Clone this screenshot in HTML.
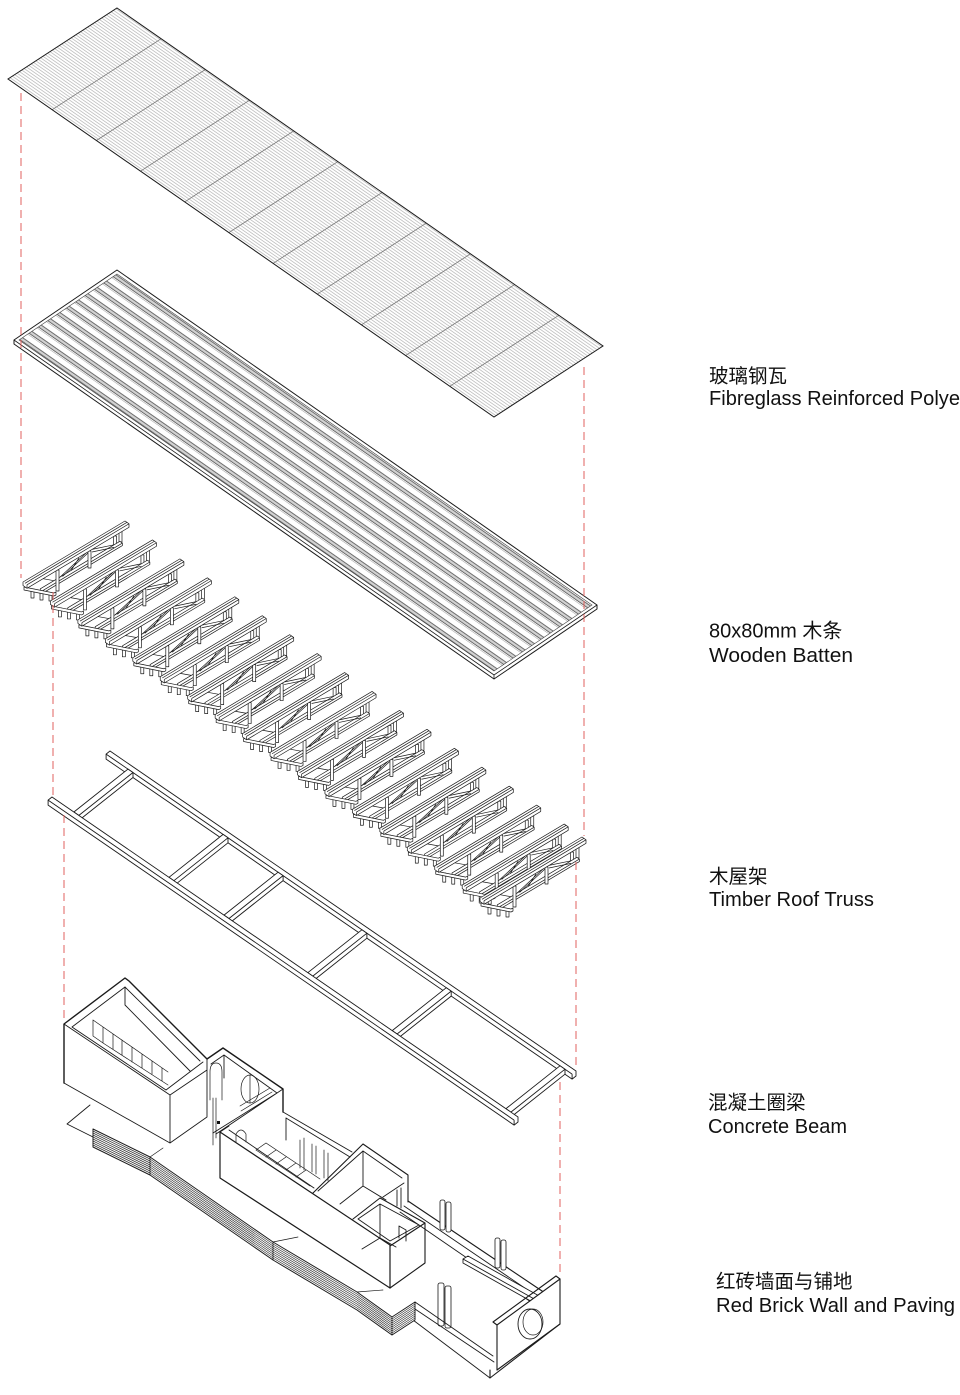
<!DOCTYPE html>
<html><head><meta charset="utf-8"><style>
html,body{margin:0;padding:0;background:#fff;}
svg{display:block;}
text{font-family:"Liberation Sans","Noto Sans CJK SC",sans-serif;fill:#111;}
</style></head><body>
<svg width="960" height="1395" viewBox="0 0 960 1395" xmlns="http://www.w3.org/2000/svg">
<defs>
<pattern id="h1" patternUnits="userSpaceOnUse" width="10" height="2.6" patternTransform="translate(117,8) rotate(34.82)">
 <line x1="0" y1="1.3" x2="10" y2="1.3" stroke="#a0a0a0" stroke-width="0.55"/>
</pattern>
<pattern id="h2" patternUnits="userSpaceOnUse" width="10" height="10.5" patternTransform="translate(117,270) rotate(34.91)">
 <rect x="0" y="4.5" width="10" height="3.2" fill="#d2d2d2"/>
 <line x1="0" y1="4.5" x2="10" y2="4.5" stroke="#3a3a3a" stroke-width="0.7"/>
 <line x1="0" y1="7.7" x2="10" y2="7.7" stroke="#3a3a3a" stroke-width="0.7"/>
 <line x1="0" y1="9.2" x2="10" y2="9.2" stroke="#9a9a9a" stroke-width="0.5"/>
</pattern>
<g id="tr" fill="#fff" stroke="#1a1a1a" stroke-width="0.7" stroke-linejoin="round">
 <rect x="96" y="-52" width="3" height="12"/>
 <rect x="90.5" y="-46" width="3" height="10"/>
 <polygon points="17.3,6.85 96.9,-40.7 99.4,-38.95 99.4,-36.45 19.8,11.1 17.3,9.35"/>
 <path fill="none" d="M19.8,8.6 L99.4,-38.95"/>
 <path fill="none" d="M37,-4.9 L63,-29 M39.5,-5.5 L65.5,-29.5 M69,-32.6 L91,-37.2 M69,-30 L91,-34.6 M20,-3.3 L31,-1.3 M48,-11.5 L56,-24"/>
 <rect x="33" y="-12" width="3" height="21"/>
 <rect x="65" y="-31" width="3" height="17"/>
 <rect x="8" y="7" width="3" height="9"/>
 <rect x="17" y="9" width="3" height="9"/>
 <rect x="26" y="11" width="3" height="8"/>
 <polygon points="1,5 31,11 33,10 33,13 31,14 1,8"/>
 <polygon points="0,0 102,-61 106,-58.2 106,-54.7 4,6.3 0,3.5"/>
 <path fill="none" d="M4,2.8 L106,-58.2 M4,2.8 L4,6.3 M2,1.3 L104,-59.7"/>
</g>
</defs>

<!-- Top panel: fibreglass -->
<polygon points="117,8 603,346 494,417 8,79" fill="url(#h1)" stroke="none"/>
<g stroke="#777" stroke-width="0.8">
<line x1="161.2" y1="38.7" x2="52.2" y2="109.7"/>
<line x1="205.4" y1="69.5" x2="96.4" y2="140.5"/>
<line x1="249.5" y1="100.2" x2="140.5" y2="171.2"/>
<line x1="293.7" y1="130.9" x2="184.7" y2="201.9"/>
<line x1="337.9" y1="161.6" x2="228.9" y2="232.6"/>
<line x1="382.1" y1="192.4" x2="273.1" y2="263.4"/>
<line x1="426.3" y1="223.1" x2="317.3" y2="294.1"/>
<line x1="470.5" y1="253.8" x2="361.5" y2="324.8"/>
<line x1="514.6" y1="284.6" x2="405.6" y2="355.6"/>
<line x1="558.8" y1="315.3" x2="449.8" y2="386.3"/>
</g>
<polygon points="117,8 603,346 494,417 8,79" fill="none" stroke="#1a1a1a" stroke-width="1"/>

<!-- Second panel: battens -->
<polygon points="117,270 597,605 597,609 494,679 14,344 14,340" fill="#fff" stroke="#1a1a1a" stroke-width="1" stroke-linejoin="round"/>
<path d="M14,340 L494,675 L597,605 M494,675 L494,679" fill="none" stroke="#1a1a1a" stroke-width="0.8"/>
<polygon points="117,274 592,605 494,671 19,340" fill="url(#h2)" stroke="#444" stroke-width="0.6"/>

<!-- Trusses -->
<use href="#tr" transform="translate(23,582)"/>
<use href="#tr" transform="translate(50.45,600.94)"/>
<use href="#tr" transform="translate(77.9,619.88)"/>
<use href="#tr" transform="translate(105.35,638.82)"/>
<use href="#tr" transform="translate(132.8,657.76)"/>
<use href="#tr" transform="translate(160.25,676.7)"/>
<use href="#tr" transform="translate(187.7,695.64)"/>
<use href="#tr" transform="translate(215.15,714.58)"/>
<use href="#tr" transform="translate(242.6,733.52)"/>
<use href="#tr" transform="translate(270.05,752.46)"/>
<use href="#tr" transform="translate(297.5,771.4)"/>
<use href="#tr" transform="translate(324.95,790.34)"/>
<use href="#tr" transform="translate(352.4,809.28)"/>
<use href="#tr" transform="translate(379.85,828.22)"/>
<use href="#tr" transform="translate(407.3,847.16)"/>
<use href="#tr" transform="translate(434.75,866.1)"/>
<use href="#tr" transform="translate(462.2,885.04)"/>
<use href="#tr" transform="translate(480,898)"/>

<!-- Ladder (concrete ring beam) -->
<g fill="#fff" stroke="#1a1a1a" stroke-width="0.9" stroke-linejoin="round">
 <polygon points="110,751 576,1071 576,1076 572.1,1079.1 106.1,759.1 106.1,754.1"/>
 <path fill="none" d="M106.1,754.1 L572.1,1074.1 M572.1,1074.1 L572.1,1079.1"/>
 <polygon points="73.9,812 128,769.1 133,772.5 133,777.5 78.9,820.4 78.9,815.4"/>
 <polygon points="169,877.3 223.1,834.4 228,837.8 228,842.8 173.9,885.7 173.9,880.7"/>
 <polygon points="224,915.1 278.1,872.2 283.1,875.6 283.1,880.6 229,923.5 229,918.5"/>
 <polygon points="307.8,972.7 361.9,929.8 366.9,933.2 366.9,938.2 312.8,981.1 312.8,976.1"/>
 <polygon points="392.2,1030.6 446.3,987.7 451.2,991.1 451.2,996.1 397.1,1039 397.1,1034"/>
 <polygon points="505.9,1108.7 560,1065.8 565,1069.2 565,1074.2 510.9,1117.1 510.9,1112.1"/>
 <path fill="none" d="M78.9,815.4 L133,772.5 M173.9,880.7 L228,837.8 M229,918.5 L283.1,875.6 M312.8,976.1 L366.9,933.2 M397.1,1034 L451.2,991.1 M510.9,1112.1 L565,1069.2"/>
 <polygon points="52,797 518,1117 518,1122 514.1,1125.1 48.1,805.1 48.1,800.1"/>
 <path fill="none" d="M48.1,800.1 L514.1,1120.1 M514.1,1120.1 L514.1,1125.1"/>
</g>

<!-- Building -->
<g fill="none" stroke="#1a1a1a" stroke-width="0.9" stroke-linejoin="round" stroke-linecap="round">
 <!-- slab -->
 <path d="M90,1105 L67,1124 L93,1137"/>
 <!-- block A -->
 <path stroke-width="1.4" d="M64,1083 L64,1024 L125,978 L129,981 L207,1059 L223,1048 L283,1089 L283,1112"/>
 <path d="M64,1024 L170,1095 L170,1143 M64,1083 L170,1143 M170,1095 L207,1070 L207,1117 L170,1143 M207,1059 L207,1070"/>
 <path d="M72,1027 L125,987 M72,1027 L166,1090 L203,1062 M125,987 L125,1005 L190,1071 M125,987 L200,1061"/>
 <path stroke-width="0.7" d="M93,1020 L93,1036 M103,1027 L103,1043 M113,1034 L113,1049 M122,1040 L122,1055 M132,1047 L132,1062 M142,1054 L142,1068 M152,1061 L152,1074 M162,1068 L162,1081 M93,1020 L168,1072 M103,1043 L168,1085 M93,1036 L103,1043"/>
 <!-- tower 2 -->
 <path d="M211,1064 L224,1055 L277,1093 M224,1055 L224,1078 M283,1089 L216,1134 M277,1093 L213,1133"/>
 <path stroke-width="0.7" d="M210,1100 L210,1072 Q210,1063 216,1063 Q222,1063 222,1072 L222,1100 M213,1098 L213,1145 M216,1098 L216,1138 M240,1106 L270,1088 M241,1111 L272,1092"/>
 <ellipse cx="250" cy="1089" rx="9" ry="14" stroke-width="0.7"/>
 <path stroke-width="0.7" d="M250,1075 L250,1103"/>
 <!-- block B -->
 <path stroke-width="1.2" d="M220,1132 L390,1245 M220,1132 L220,1178 L390,1288 L390,1245"/>
 <path d="M229,1130 L314,1188 M220,1132 L229,1126 M283,1112 L352,1152 M286,1118 L350,1157 M286,1118 L286,1140"/>
 <path stroke-width="0.7" d="M236,1142 L236,1134 Q241,1126 246,1134 L246,1142 M256,1150 L310,1186 M266,1143 L320,1179 M256,1150 L266,1143 M266,1157 L276,1150 M276,1164 L286,1157 M286,1170 L296,1163 M296,1177 L306,1170 M300,1140 L300,1168 M304,1138 L304,1170 M312,1144 L312,1172 M316,1146 L316,1174 M324,1150 L324,1178 M328,1153 L328,1181"/>
 <!-- box C -->
 <path stroke-width="1.1" d="M313,1193 L363,1144 L408,1175 L408,1202"/>
 <path d="M318,1191 L363,1151 L402,1178 M363,1151 L363,1186 L340,1204 M363,1186 L386,1200 M383,1197 L404,1183 M397,1190 L397,1206 M401,1188 L401,1208"/>
 <!-- box D -->
 <path stroke-width="1.1" d="M353,1219 L380,1198 L425,1223 L390,1246 M425,1223 L425,1263 L390,1288"/>
 <path d="M358,1219 L380,1204 L419,1225 L390,1241 L358,1219 M380,1204 L380,1238 L362,1249 M380,1238 L396,1247 M399,1238 L399,1226 L406,1230 L406,1241"/>
 <!-- paving / right part -->
 <path stroke-width="1.1" d="M408,1201 L545,1293"/>
 <path d="M404,1206 L538,1297 M400,1212 L531,1302"/>
 <path fill="#fff" d="M463,1259 L468,1256 L541,1297 L536,1300 Z M463,1259 L463,1263 L536,1304 L536,1300 M536,1304 L541,1301 L541,1297"/>
 <g fill="#fff" stroke-width="0.8">
  <rect x="440" y="1200" width="5" height="30" rx="2"/>
  <rect x="446" y="1202" width="5" height="30" rx="2"/>
  <rect x="495" y="1238" width="5" height="30" rx="2"/>
  <rect x="501" y="1240" width="5" height="30" rx="2"/>
  <rect x="438" y="1283" width="6" height="43" rx="2"/>
  <rect x="445" y="1286" width="6" height="42" rx="2"/>
 </g>
 <path stroke-width="1.1" fill="#fff" d="M497,1325 L560,1279 L560,1324 L497,1370 Z"/>
 <path stroke-width="1.1" d="M493,1322 L556,1276 L560,1279 M493,1322 L497,1325 M560,1324 L490,1378 M490,1378 L490,1370"/>
 <ellipse cx="530" cy="1324" rx="12" ry="15"/>
 <ellipse cx="533" cy="1322" rx="10" ry="13" stroke-width="0.7"/>
 <path d="M415,1302 L493,1356 M415,1309 L494,1362 M413,1320 L490,1378"/>
 <!-- floor seams -->
 <path stroke-width="0.7" d="M150,1157 L163,1148 M273,1242 L298,1237 M357,1292 L383,1290"/>
 <!-- brick wall -->
 <path fill="#fff" stroke-width="1" d="M93,1129 L150,1157 L273,1242 L357,1292 L392,1317 L415,1302 L415,1320 L392,1335 L357,1310 L273,1260 L150,1175 L93,1147 Z"/>
 <g stroke="#333" stroke-width="0.7">
  <path d="M93,1131 L150,1159 L273,1244 L357,1294 L392,1319 L415,1304"/>
  <path d="M93,1133 L150,1161 L273,1246 L357,1296 L392,1321 L415,1306"/>
  <path d="M93,1135 L150,1163 L273,1248 L357,1298 L392,1323 L415,1308"/>
  <path d="M93,1137 L150,1165 L273,1250 L357,1300 L392,1325 L415,1310"/>
  <path d="M93,1139 L150,1167 L273,1252 L357,1302 L392,1327 L415,1312"/>
  <path d="M93,1141 L150,1169 L273,1254 L357,1304 L392,1329 L415,1314"/>
  <path d="M93,1143 L150,1171 L273,1256 L357,1306 L392,1331 L415,1316"/>
  <path d="M93,1145 L150,1173 L273,1258 L357,1308 L392,1333 L415,1318"/>
 </g>
 <path stroke-width="0.8" d="M392,1317 L392,1335 M150,1157 L150,1175 M273,1242 L273,1260"/>
</g>
<rect x="217" y="1121" width="3" height="3" fill="#111"/>

<!-- Red dashed alignment lines -->
<g stroke="#e0625f" stroke-width="1" stroke-dasharray="8,5" fill="none">
 <line x1="21" y1="93" x2="21" y2="578"/>
 <line x1="53" y1="592" x2="53" y2="797"/>
 <line x1="64" y1="815" x2="64" y2="1023"/>
 <line x1="584" y1="367" x2="584" y2="836"/>
 <line x1="576" y1="862" x2="576" y2="1070"/>
 <line x1="560" y1="1082" x2="560" y2="1277"/>
</g>

<!-- Labels -->
<text x="709" y="382.5" font-size="19.5">玻璃钢瓦</text>
<text x="709" y="405" font-size="20" textLength="251" lengthAdjust="spacingAndGlyphs">Fibreglass Reinforced Polye</text>
<text x="709" y="637.5" font-size="20">80x80mm 木条</text>
<text x="709" y="662" font-size="20" textLength="144" lengthAdjust="spacingAndGlyphs">Wooden Batten</text>
<text x="709" y="883" font-size="19.5">木屋架</text>
<text x="709" y="906" font-size="20" textLength="165" lengthAdjust="spacingAndGlyphs">Timber Roof Truss</text>
<text x="708" y="1109" font-size="19.5">混凝土圈梁</text>
<text x="708" y="1133" font-size="20" textLength="139" lengthAdjust="spacingAndGlyphs">Concrete Beam</text>
<text x="716" y="1288" font-size="19.5">红砖墙面与铺地</text>
<text x="716" y="1312" font-size="20" textLength="239" lengthAdjust="spacingAndGlyphs">Red Brick Wall and Paving</text>
</svg>
</body></html>
